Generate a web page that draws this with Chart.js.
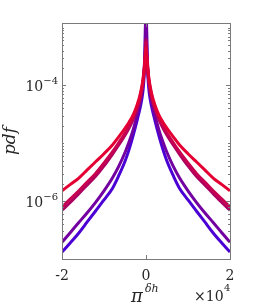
<!DOCTYPE html>
<html>
<head>
<meta charset="utf-8">
<script src="https://cdn.jsdelivr.net/npm/chart.js@4"></script>
<style>
  html, body { margin: 0; padding: 0; background: #fff; }
  canvas { display: block; }
</style>
</head>
<body>
<canvas id="pdfChart" width="254" height="308"></canvas>
<script>
// x in Einheiten von 10^4
const xValues = [-2, -1.8, -1.6, -1.4, -1.2, -1.0, -0.8, -0.65, -0.5, -0.4, -0.3, -0.2, -0.15, -0.1, -0.07, -0.05, -0.035, -0.02,
    0, 0.02, 0.035, 0.05, 0.07, 0.1, 0.15, 0.2, 0.3, 0.4, 0.5, 0.65, 0.8, 1.0, 1.2, 1.4, 1.6, 1.8, 2];

// pdf-Werte
const pdfRed = [1.51e-6, 1.95e-6, 2.51e-6, 3.47e-6, 4.79e-6, 6.61e-6, 9.33e-6, 1.29e-5, 1.82e-5, 2.34e-5, 3.16e-5, 4.90e-5, 6.46e-5, 9.55e-5, 1.32e-4, 1.74e-4, 2.29e-4, 3.02e-4,
    4.47e-4, 3.02e-4, 2.29e-4, 1.74e-4, 1.32e-4, 9.55e-5, 6.46e-5, 4.90e-5, 3.16e-5, 2.34e-5, 1.82e-5, 1.29e-5, 9.33e-6, 6.61e-6, 4.79e-6, 3.47e-6, 2.51e-6, 1.95e-6, 1.51e-6];
const pdfCrimson = [7.94e-7, 1.10e-6, 1.51e-6, 2.14e-6, 3.02e-6, 4.57e-6, 7.08e-6, 1.02e-5, 1.51e-5, 2.04e-5, 2.88e-5, 4.57e-5, 6.03e-5, 8.91e-5, 1.23e-4, 1.66e-4, 2.19e-4, 3.02e-4,
    5.62e-4, 3.02e-4, 2.19e-4, 1.66e-4, 1.23e-4, 8.91e-5, 6.03e-5, 4.57e-5, 2.88e-5, 2.04e-5, 1.51e-5, 1.02e-5, 7.08e-6, 4.57e-6, 3.02e-6, 2.14e-6, 1.51e-6, 1.10e-6, 7.94e-7];
const pdfMaroon = [6.92e-7, 9.55e-7, 1.35e-6, 1.91e-6, 2.69e-6, 4.07e-6, 6.46e-6, 9.33e-6, 1.38e-5, 1.86e-5, 2.63e-5, 4.17e-5, 5.50e-5, 8.13e-5, 1.12e-4, 1.51e-4, 2.09e-4, 3.02e-4,
    6.31e-4, 3.02e-4, 2.09e-4, 1.51e-4, 1.12e-4, 8.13e-5, 5.50e-5, 4.17e-5, 2.63e-5, 1.86e-5, 1.38e-5, 9.33e-6, 6.46e-6, 4.07e-6, 2.69e-6, 1.91e-6, 1.35e-6, 9.55e-7, 6.92e-7];
const pdfPurple = [1.95e-7, 2.88e-7, 4.27e-7, 6.31e-7, 9.55e-7, 1.51e-6, 2.51e-6, 3.98e-6, 6.92e-6, 1.07e-5, 1.78e-5, 3.31e-5, 4.68e-5, 7.24e-5, 1.05e-4, 1.58e-4, 2.63e-4, 5.62e-4,
    3.16e-3, 5.62e-4, 2.63e-4, 1.58e-4, 1.05e-4, 7.24e-5, 4.68e-5, 3.31e-5, 1.78e-5, 1.07e-5, 6.92e-6, 3.98e-6, 2.51e-6, 1.51e-6, 9.55e-7, 6.31e-7, 4.27e-7, 2.88e-7, 1.95e-7];
const pdfBlue = [1.32e-7, 1.91e-7, 2.82e-7, 4.37e-7, 6.76e-7, 1.05e-6, 1.66e-6, 2.75e-6, 4.90e-6, 7.94e-6, 1.41e-5, 2.69e-5, 3.80e-5, 5.75e-5, 8.32e-5, 1.26e-4, 2.19e-4, 5.01e-4,
    3.16e-3, 5.01e-4, 2.19e-4, 1.26e-4, 8.32e-5, 5.75e-5, 3.80e-5, 2.69e-5, 1.41e-5, 7.94e-6, 4.90e-6, 2.75e-6, 1.66e-6, 1.05e-6, 6.76e-7, 4.37e-7, 2.82e-7, 1.91e-7, 1.32e-7];

const seriesNames = ['red', 'crimson', 'maroon', 'purple', 'blue'];
const seriesColors = ['rgb(228,0,50)', 'rgb(200,0,80)', 'rgb(172,0,98)', 'rgb(115,0,160)', 'rgb(75,0,212)'];

// Achsen-Ticks
const xTicks = [-2, 0, 2];
const yMajorTicks = [1e-6, 1e-4];
const yMajorExponents = ['\u22126', '\u22124'];
const yMin = 1e-7;
const yMax = 1.2e-3;

const serif = "'DejaVu Serif', 'Liberation Serif', serif";
const textColor = '#262626';

function majorIndex(v) {
    return yMajorTicks.findIndex(m => Math.abs(v / m - 1) < 1e-6);
}

// alle Log-Ticks 1..9 x 10^n im Bereich
function logTicks() {
    const ticks = [];
    for (let e = -8; e <= -2; e++) {
        for (let s = 1; s <= 9; s++) {
            const v = s * Math.pow(10, e);
            if (v >= yMin * 0.999 && v <= yMax * 1.001) ticks.push({ value: v });
        }
    }
    return ticks;
}

// MATLAB-artiger Rahmen, Ticks nach innen, Beschriftung mit Hochstellung
const matlabAxes = {
    id: 'matlabAxes',
    afterDatasetsDraw(chart) {
        const { ctx, chartArea: a, scales: { x, y } } = chart;
        ctx.save();
        ctx.strokeStyle = '#7a7a7a';
        ctx.lineWidth = 1;
        ctx.beginPath();
        y.ticks.forEach(t => {
            const py = Math.round(y.getPixelForValue(t.value)) + 0.5;
            const len = majorIndex(t.value) >= 0 ? 4 : 2;
            ctx.moveTo(a.left, py); ctx.lineTo(a.left + len, py);
            ctx.moveTo(a.right, py); ctx.lineTo(a.right - len, py);
        });
        x.ticks.forEach(t => {
            const px = Math.round(x.getPixelForValue(t.value)) + 0.5;
            ctx.moveTo(px, a.bottom); ctx.lineTo(px, a.bottom - 4);
            ctx.moveTo(px, a.top); ctx.lineTo(px, a.top + 4);
        });
        ctx.stroke();
        ctx.strokeRect(Math.round(a.left) + 0.5, Math.round(a.top) + 0.5,
            Math.round(a.right - a.left), Math.round(a.bottom - a.top));

        ctx.fillStyle = textColor;
        ctx.textBaseline = 'alphabetic';

        // y tick labels 10^{-n}
        yMajorTicks.forEach((v, i) => {
            const py = y.getPixelForValue(v);
            ctx.font = '10px ' + serif;
            ctx.textAlign = 'right';
            ctx.fillText(yMajorExponents[i], a.left - 4, py - 1);
            const expW = ctx.measureText(yMajorExponents[i]).width;
            ctx.font = '14px ' + serif;
            ctx.fillText('10', a.left - 4 - expW, py + 6);
        });

        ctx.textAlign = 'left';
        // x label: pi^{delta h}
        ctx.font = 'italic 18px ' + serif;
        ctx.fillText('\u03C0', 131, 302);
        ctx.font = 'italic 11px ' + serif;
        ctx.fillText('\u03B4h', 145, 292);
        // exponent label x10^4
        ctx.font = '14px ' + serif;
        ctx.fillText('\u00D710', 194, 301);
        ctx.font = '10px ' + serif;
        ctx.fillText('4', 224, 291);
        ctx.restore();
    }
};

const ctx = document.getElementById('pdfChart').getContext('2d');

const allSeries = [pdfRed, pdfCrimson, pdfMaroon, pdfPurple, pdfBlue];

const data = {
    datasets: allSeries.map((s, i) => ({
        label: seriesNames[i],
        data: xValues.map((xv, j) => ({ x: xv, y: s[j] })),
        borderColor: seriesColors[i],
        borderWidth: 3,
        pointRadius: 0,
        fill: false,
        cubicInterpolationMode: 'monotone'
    }))
};

new Chart(ctx, {
    type: 'line',
    data: data,
    options: {
        responsive: false,
        animation: false,
        layout: { padding: { left: 0, top: 23, right: 24, bottom: 0 } },
        plugins: { legend: { display: false }, tooltip: { enabled: false } },
        scales: {
            x: {
                type: 'linear',
                min: -2,
                max: 2,
                grid: { display: false, drawTicks: false },
                border: { display: false },
                afterBuildTicks: scale => { scale.ticks = xTicks.map(v => ({ value: v })); },
                afterFit: scale => { scale.height = 49; },
                ticks: {
                    padding: 9,
                    color: textColor,
                    font: { family: serif, size: 14 },
                    callback: v => String(v)
                }
            },
            y: {
                type: 'logarithmic',
                min: yMin,
                max: yMax,
                grid: { display: false, drawTicks: false },
                border: { display: false },
                afterBuildTicks: scale => { scale.ticks = logTicks(); },
                afterFit: scale => { scale.width = 62; },
                title: {
                    display: true,
                    text: 'pdf',
                    color: textColor,
                    font: { family: serif, size: 17, style: 'italic' },
                    padding: 0
                },
                ticks: {
                    autoSkip: false,
                    padding: 5,
                    callback: () => ''
                }
            }
        }
    },
    plugins: [matlabAxes]
});
</script>
</body>
</html>
